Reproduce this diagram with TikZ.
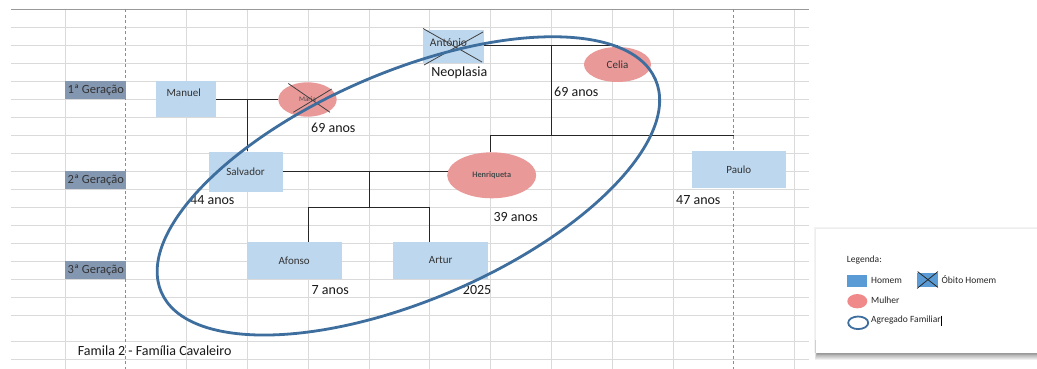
\documentclass[tikz,border=0pt]{standalone}
\usepackage{fontspec}
\setmainfont{Carlito}
\usetikzlibrary{shapes.geometric}
\definecolor{boxblue}{HTML}{BDD7EE}
\definecolor{pinkf}{HTML}{EA9999}
\definecolor{lpink}{HTML}{F08A8A}
\definecolor{genblue}{HTML}{8497B0}
\definecolor{aggblue}{HTML}{3D6E9E}
\definecolor{lblue}{HTML}{5B9BD5}
\definecolor{gridc}{HTML}{DADADA}
\begin{document}
\begin{tikzpicture}[x=1pt,y=-1pt,
  man/.style={rectangle, fill=boxblue, draw=none, inner sep=0pt},
  woman/.style={ellipse, fill=pinkf, draw=none, inner sep=0pt},
  btxt/.style={font=\fontsize{11}{13}\selectfont, text=black!80, inner sep=0pt},
  lbl/.style={font=\fontsize{14}{16}\selectfont, inner sep=0pt, anchor=west, text=black!90},
  gen/.style={rectangle, fill=genblue, minimum width=61, minimum height=18, inner sep=0pt},
  gtxt/.style={font=\fontsize{12.5}{14}\selectfont, text=black!80, inner sep=0pt, anchor=west},
  ltxt/.style={font=\fontsize{9.5}{11}\selectfont, text=black!85, inner sep=0pt, anchor=west},
  conn/.style={draw=black!85, line width=0.9pt},
  cross/.style={draw=black!75, line width=0.8pt},
  gline/.style={draw=gridc, line width=0.9pt},
  pbreak/.style={draw=black!45, line width=0.8pt, dash pattern=on 3pt off 2.5pt},
  agg/.style={draw=aggblue, line width=2.8pt}]
\useasboundingbox (0,0) rectangle (1037,369);
\fill[white] (0,0) rectangle (1037,369);
% grid
\foreach \yy in {27.3,45.3,63.3,81.3,99.3,117.3,135.3,153.3,171.3,189.3,207.3,225.3,243.3,261.3,279.3,297.3,315.3,341,359}
  \draw[gline] (11,\yy) -- (809,\yy);
\foreach \xx in {65,186.6,247.4,308.2,369,429.8,490.6,551.4,612.2,673,794.6}
  \draw[gline] (\xx,9.3) -- (\xx,369);
\draw[draw=black!40, line width=1.1pt] (11,9.3) -- (809,9.3);
\draw[pbreak] (125.8,9.3) -- (125.8,369);
\draw[pbreak] (733.8,9.3) -- (733.8,369);
% generation labels
\node[gen] (g1) at (95.8,90.3) {};
\node[gen] (g2) at (95.8,180.3) {};
\node[gen] (g3) at (95.8,270.3) {};
\node[gtxt] (g1t) at (67.5,90.3) {1ª Geração};
\node[gtxt] (g2t) at (67.5,180.6) {2ª Geração};
\node[gtxt] (g3t) at (67.5,270.3) {3ª Geração};
% connector points
\coordinate (c1) at (247.4,99.3);
\coordinate (c2) at (551.4,45.3);
\coordinate (c3) at (551.4,135.3);
\coordinate (c4) at (490.6,135.3);
\coordinate (c5) at (733.8,135.3);
\coordinate (c6) at (369,171.3);
\coordinate (c7) at (369,207.3);
\coordinate (c8) at (308.2,207.3);
\coordinate (c9) at (429.8,207.3);
% people
\node[man, minimum width=60, minimum height=35.4] (manuel) at (186,99) {};
\node[woman, minimum width=58.4, minimum height=34.4, font=\fontsize{7}{8}\selectfont, text=black!70] (maria) at (307.5,99.5) {Maria};
\node[man, minimum width=61, minimum height=33.3] (antonio) at (453.7,46.6) {};
\node[woman, minimum width=67, minimum height=35, btxt] (celia) at (617.5,64.5) {Celia};
\node[man, minimum width=74, minimum height=40, btxt] (salvador) at (245.5,171.5) {Salvador};
\node[woman, minimum width=89, minimum height=46, font=\fontsize{8.3}{9}\selectfont\bfseries, text=black!70] (henriqueta) at (491.7,175.3) {Henriqueta};
\node[man, minimum width=94.4, minimum height=37.6, btxt] (paulo) at (738.8,169.5) {Paulo};
\node[man, minimum width=95, minimum height=36.7, btxt] (afonso) at (294.2,260.3) {Afonso};
\node[man, minimum width=94.7, minimum height=36.7, btxt] (artur) at (440.7,260.3) {Artur};
% connectors
\draw[conn] (manuel.east) -- (manuel.east -| maria.west);
\draw[conn] (c1) -- (c1 |- salvador.north);
\draw[conn] ([yshift=1.3pt]antonio.east) -- ([yshift=1.3pt]antonio.east -| celia.north);
\draw[conn] (c2) -- (c3);
\draw[conn] (c4) -- (c5);
\draw[conn] (c4) -- (c4 |- henriqueta.north);
\draw[conn] (salvador.east) -- ([xshift=1pt]salvador.east -| henriqueta.west);
\draw[conn] (c6) -- (c7);
\draw[conn] (c8) -- (c9);
\draw[conn] (c8) -- (c8 |- afonso.north);
\draw[conn] (c9) -- (c9 |- artur.north);
% texts inside boxes placed off-centre
\node[btxt] (manuelt) at (183.7,92.5) {Manuel};
\node[btxt, font=\fontsize{11.5}{13}\selectfont] (antoniot) at (448.5,42.5) {António};
% crosses (death)
\coordinate (ma1) at (288.3,83.5);
\coordinate (ma2) at (330,112.3);
\coordinate (ma3) at (331.7,89);
\coordinate (ma4) at (293.3,112.3);
\draw[cross] (ma1) -- (ma2);
\draw[cross] (ma3) -- (ma4);
\coordinate (an1) at (423,28.5);
\coordinate (an2) at (482,62);
\coordinate (an3) at (483,32);
\coordinate (an4) at (424,65);
\draw[cross] (an1) -- (an2);
\draw[cross] (an3) -- (an4);
% labels
\node[lbl, anchor=center] (neo) at (459.3,72.5) {Neoplasia};
\node[lbl] (age1) at (311,127.8) {69 anos};
\node[lbl] (age2) at (554,92) {69 anos};
\node[lbl] (age3) at (190,200.3) {44 anos};
\node[lbl] (age4) at (493.3,217.5) {39 anos};
\node[lbl] (age5) at (676,200.3) {47 anos};
\node[lbl] (age6) at (311.5,290.3) {7 anos};
\node[lbl] (age7) at (462.7,290.3) {2025};
\node[lbl] (title) at (77.7,350.3) {Famila 2 - Família Cavaleiro};
% agregado familiar
\draw[agg, rotate around={23.25:(408.4,185.9)}] (408.4,185.9) ellipse [x radius=269, y radius=114];
% legend
\foreach \i in {1,...,8}
  \fill[black, opacity=0.06] (817-\i*0.25,340) rectangle (1037,352.7+\i*0.9);
\foreach \i in {1,...,3}
  \fill[black, opacity=0.025] (815-\i*0.5,228-\i*0.5) rectangle (1037,353);
\fill[white] (815.5,228.5) rectangle (1037,352.7);
\node[ltxt] (legenda) at (846.7,260) {Legenda:};
\node[rectangle, fill=lblue, minimum width=19.4, minimum height=11.7, inner sep=0pt] (lhomem) at (857,280.8) {};
\node[ltxt] (lhomemt) at (871,280) {Homem};
\node[rectangle, fill=lblue, minimum width=20.4, minimum height=14.4, inner sep=0pt] (lobito) at (927.5,280) {};
\draw[cross, draw=black!85] ([shift={(0.5pt,1pt)}]lobito.north west) -- (lobito.south east);
\draw[cross, draw=black!85] ([shift={(0pt,1pt)}]lobito.north east) -- ([shift={(0pt,-1pt)}]lobito.south west);
\node[ltxt] (lobitot) at (941.5,279.5) {Óbito Homem};
\node[ellipse, fill=lpink, minimum width=20, minimum height=14.3, inner sep=0pt] (lmulher) at (857.3,301.2) {};
\node[ltxt] (lmulhert) at (871,300.2) {Mulher};
\node[ellipse, draw=aggblue, line width=1.8pt, minimum width=20, minimum height=12.6, inner sep=0pt] (lagg) at (858.2,322.8) {};
\node[ltxt] (laggt) at (871,320.5) {Agregado Familiar};
\coordinate (cur1) at ([xshift=0.8pt]laggt.east |- 0,315.7);
\coordinate (cur2) at ([xshift=0.8pt]laggt.east |- 0,326);
\draw[black, line width=0.6pt] (cur1) -- (cur2);
\end{tikzpicture}
\end{document}
